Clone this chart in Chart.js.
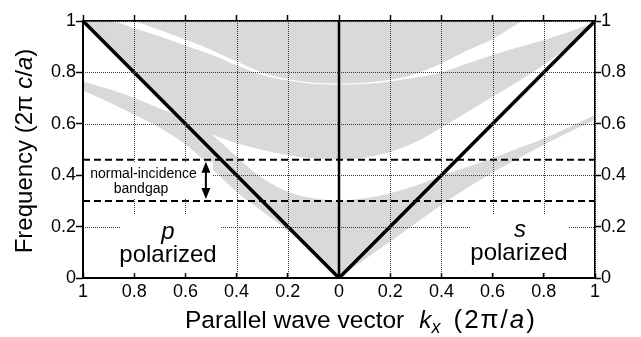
<!DOCTYPE html>
<html>
<head>
<meta charset="utf-8">
<script src="https://cdn.jsdelivr.net/npm/chart.js@4/dist/chart.umd.min.js"></script>
<style>
html,body{margin:0;padding:0;background:#fff;}
#wrap{width:641px;height:337px;position:relative;}
</style>
</head>
<body>
<div id="wrap"><canvas id="c" width="641" height="337"></canvas></div>
<script>
const FONT = '"Liberation Sans", Arial, Helvetica, sans-serif';
const GRAY = '#d9d9d9';

// |k_x| samples (units of 2π/a)
const kSamples = [0, 0.1, 0.2, 0.3, 0.4, 0.5, 0.6, 0.7, 0.8, 0.9, 1.0];

// p-polarized band edges (left half, frequency in 2πc/a)
const pBand1Lower = [0, 0.095, 0.185, 0.26, 0.335, 0.43, 0.52, 0.585, 0.635, 0.685, 0.73];
const pBand1Upper = [0.30, 0.31, 0.336, 0.389, 0.472, 0.56, 0.62, 0.66, 0.70, 0.735, 0.765];
const pBand2Lower = [0.46, 0.466, 0.479, 0.498, 0.524, 0.56, 0.60, 0.70, 0.80, 0.90, 1.0];
const pBand2Upper = [0.752, 0.755, 0.768, 0.79, 0.828, 0.87, 0.905, 0.94, 0.972, 1.0, 1.0];
const pBand3K     = [0, 0.1, 0.2, 0.3, 0.4, 0.5, 0.6, 0.7, 0.8];
const pBand3Lower = [0.756, 0.76, 0.774, 0.80, 0.842, 0.888, 0.928, 0.965, 1.0];
const pBand3Upper = [1, 1, 1, 1, 1, 1, 1, 1, 1];

// s-polarized band edges (right half)
const sBand1Lower = [0, 0.072, 0.142, 0.213, 0.284, 0.35, 0.41, 0.465, 0.518, 0.568, 0.615];
const sBand1Upper = [0.30, 0.31, 0.33, 0.36, 0.398, 0.432, 0.466, 0.505, 0.543, 0.588, 0.634];
const sBand2Lower = [0.46, 0.468, 0.49, 0.53, 0.585, 0.645, 0.705, 0.765, 0.83, 0.905, 0.985];
const sBand2Upper = [0.752, 0.755, 0.765, 0.78, 0.80, 0.835, 0.868, 0.898, 0.926, 0.958, 0.995];
const sBand3K     = [0, 0.1, 0.2, 0.3, 0.4, 0.5, 0.6, 0.7, 0.72];
const sBand3Lower = [0.756, 0.76, 0.771, 0.795, 0.835, 0.885, 0.93, 0.99, 1.0];
const sBand3Upper = [1, 1, 1, 1, 1, 1, 1, 1, 1];

// light lines and normal-incidence gap
const lightX = [-1, 0, 1];
const lightY = [1, 0, 1];
const gapEdges = [0.30, 0.46];
const arrowK = -0.52;

// ticks
const xTickValues = [-1, -0.8, -0.6, -0.4, -0.2, 0, 0.2, 0.4, 0.6, 0.8, 1];
const xTickLabels = ['1', '0.8', '0.6', '0.4', '0.2', '0', '0.2', '0.4', '0.6', '0.8', '1'];
const yTickValues = [0, 0.2, 0.4, 0.6, 0.8, 1];
const yTickLabels = ['0', '0.2', '0.4', '0.6', '0.8', '1'];

function pts(sign, ks, ys) {
  return ks.map((k, i) => ({x: sign * k, y: ys[i]})).sort((a, b) => a.x - b.x);
}

const datasets = [];
datasets.push({data: lightX.map((x, i) => ({x, y: lightY[i]})), borderColor: '#000', borderWidth: 3.5,
  pointRadius: 0, fill: false, order: 0});
datasets.push({data: [{x: 0, y: 0}, {x: 0, y: 1}], borderColor: '#000', borderWidth: 2.5,
  pointRadius: 0, fill: false, order: 1});
gapEdges.forEach(g => datasets.push({data: [{x: -1, y: g}, {x: 1, y: g}], borderColor: '#000',
  borderWidth: 2, borderDash: [7, 4], pointRadius: 0, fill: false, order: 2}));

const bands = [
  [-1, kSamples, pBand1Lower, pBand1Upper],
  [-1, kSamples, pBand2Lower, pBand2Upper],
  [-1, pBand3K, pBand3Lower, pBand3Upper],
  [1, kSamples, sBand1Lower, sBand1Upper],
  [1, kSamples, sBand2Lower, sBand2Upper],
  [1, sBand3K, sBand3Lower, sBand3Upper]
];
bands.forEach(([sign, ks, lo, up]) => {
  const li = datasets.length;
  datasets.push({data: pts(sign, ks, lo), borderWidth: 0, borderColor: 'rgba(0,0,0,0)', pointRadius: 0,
    fill: false, order: 10, cubicInterpolationMode: 'monotone'});
  datasets.push({data: pts(sign, ks, up), borderWidth: 0, borderColor: 'rgba(0,0,0,0)', pointRadius: 0,
    fill: li, backgroundColor: GRAY, order: 10, cubicInterpolationMode: 'monotone'});
});

// rich text: parts {t, i: italic, sub, sz: size, gap: px before, ls: letter spacing}
function drawRich(ctx, parts, x, y, size, align) {
  const szOf = p => p.sz || (p.sub ? Math.round(size * 0.72) : size);
  const fontOf = p => `${p.i ? 'italic ' : ''}${szOf(p)}px ${FONT}`;
  let w = 0;
  parts.forEach(p => {
    ctx.font = fontOf(p);
    const ls = p.ls || 0;
    p.w = ctx.measureText(p.t).width + ls * [...p.t].length + (p.gap || 0);
    w += p.w;
  });
  let cx = align === 'center' ? x - w / 2 : x;
  ctx.textAlign = 'left';
  ctx.textBaseline = 'alphabetic';
  parts.forEach(p => {
    ctx.font = fontOf(p);
    let px = cx + (p.gap || 0);
    const ls = p.ls || 0;
    const dy = p.sub ? size * 0.2 : 0;
    if (ls) {
      [...p.t].forEach(ch => { ctx.fillText(ch, px, y + dy); px += ctx.measureText(ch).width + ls; });
    } else {
      ctx.fillText(p.t, px, y + dy);
    }
    cx += p.w;
  });
  return w;
}

const xTitle = [{t: 'Parallel wave vector'}, {t: 'k', i: true, gap: 15}, {t: 'x', i: true, sub: true},
  {t: '(2π/', sz: 26, ls: 2, gap: 13}, {t: 'a', i: true, sz: 26, ls: 2}, {t: ')', sz: 26}];
const yTitle = [{t: 'Frequency (2π '}, {t: 'c', i: true}, {t: '/'}, {t: 'a', i: true}, {t: ')'}];

// dotted grid drawn above the shaded bands
const gridPlugin = {
  id: 'gridOver',
  afterDatasetsDraw(chart) {
    const ctx = chart.ctx;
    const xs = chart.scales.x, ys = chart.scales.y, a = chart.chartArea;
    ctx.save();
    ctx.strokeStyle = '#3a3a3a';
    ctx.lineWidth = 1;
    ctx.setLineDash([1, 1]);
    xs.ticks.forEach(t => {
      if (t.value === 0) return;
      const px = Math.round(xs.getPixelForValue(t.value)) + 0.5;
      ctx.beginPath(); ctx.moveTo(px, a.top); ctx.lineTo(px, a.bottom); ctx.stroke();
    });
    ys.ticks.forEach(t => {
      const py = Math.round(ys.getPixelForValue(t.value)) + 0.5;
      ctx.beginPath(); ctx.moveTo(a.left, py); ctx.lineTo(a.right, py); ctx.stroke();
    });
    ctx.restore();
  }
};

const annot = {
  id: 'annot',
  afterDraw(chart) {
    const ctx = chart.ctx;
    const xs = chart.scales.x, ys = chart.scales.y;
    ctx.save();
    // white backgrounds behind labels
    ctx.fillStyle = '#fff';
    const g0 = ys.getPixelForValue(gapEdges[0]), g1 = ys.getPixelForValue(gapEdges[1]);
    ctx.fillRect(xs.left + 1, g1 + 2, 129, g0 - g1 - 4);
    ctx.fillRect(120, 214, 100, 58);
    ctx.fillRect(470, 214, 99, 58);
    ctx.fillStyle = '#000';
    // labels
    drawRich(ctx, [{t: 'normal-incidence'}], 143.5, 178, 14, 'center');
    drawRich(ctx, [{t: 'bandgap'}], 141, 193, 14, 'center');
    drawRich(ctx, [{t: 'p', i: true}], 168, 239, 24, 'center');
    drawRich(ctx, [{t: 'polarized'}], 168, 262, 24, 'center');
    drawRich(ctx, [{t: 's', i: true}], 520, 237, 24, 'center');
    drawRich(ctx, [{t: 'polarized'}], 519, 260, 24, 'center');
    // double arrow
    const ax = xs.getPixelForValue(arrowK);
    const top = g1 + 2, bot = g0 - 2;
    ctx.strokeStyle = '#000';
    ctx.lineWidth = 2;
    ctx.beginPath(); ctx.moveTo(ax, top + 8); ctx.lineTo(ax, bot - 8); ctx.stroke();
    ctx.beginPath(); ctx.moveTo(ax, top); ctx.lineTo(ax - 4.5, top + 11); ctx.lineTo(ax + 4.5, top + 11); ctx.closePath(); ctx.fill();
    ctx.beginPath(); ctx.moveTo(ax, bot); ctx.lineTo(ax - 4.5, bot - 11); ctx.lineTo(ax + 4.5, bot - 11); ctx.closePath(); ctx.fill();
    // axis titles
    drawRich(ctx, xTitle, 185, 328, 24.5, 'left');
    ctx.save();
    ctx.translate(32, 151);
    ctx.rotate(-Math.PI / 2);
    drawRich(ctx, yTitle, 0, 0, 24, 'center');
    ctx.restore();
    ctx.restore();
  }
};

const tickFont = {family: FONT, size: 18};
new Chart(document.getElementById('c'), {
  type: 'line',
  data: {datasets},
  options: {
    responsive: false,
    devicePixelRatio: 1,
    animation: false,
    events: [],
    layout: {padding: {left: 43, right: 6, top: 0, bottom: 0}},
    plugins: {legend: {display: false}, tooltip: {enabled: false}},
    scales: {
      x: {
        type: 'linear', position: 'bottom', min: -1, max: 1,
        afterBuildTicks: s => { s.ticks = xTickValues.map(v => ({value: v})); },
        afterFit: s => { s.height = 59; },
        ticks: {callback: (v, i) => xTickLabels[i], font: tickFont, color: '#000', padding: 8,
          autoSkip: false, maxRotation: 0},
        grid: {drawOnChartArea: false, tickLength: -5, tickColor: '#000', tickWidth: 1.5},
        border: {display: true, color: '#000', width: 2, z: 2}
      },
      x2: {
        type: 'linear', position: 'top', min: -1, max: 1,
        afterBuildTicks: s => { s.ticks = xTickValues.map(v => ({value: v})); },
        afterFit: s => { s.height = 21; },
        ticks: {display: false},
        grid: {drawOnChartArea: false, tickLength: 6, tickColor: '#000', tickWidth: 1.5},
        border: {display: true, color: '#000', width: 1.5, z: 2}
      },
      y: {
        type: 'linear', position: 'left', min: 0, max: 1,
        afterBuildTicks: s => { s.ticks = yTickValues.map(v => ({value: v})); },
        afterFit: s => { s.width = 40; },
        ticks: {callback: (v, i) => yTickLabels[i], font: tickFont, color: '#000', padding: 0, autoSkip: false},
        grid: {drawOnChartArea: false, tickLength: 7, tickColor: '#000', tickWidth: 1.5},
        border: {display: true, color: '#000', width: 2, z: 2}
      },
      y2: {
        type: 'linear', position: 'right', min: 0, max: 1,
        afterBuildTicks: s => { s.ticks = yTickValues.map(v => ({value: v})); },
        afterFit: s => { s.width = 40; },
        ticks: {callback: (v, i) => yTickLabels[i], font: tickFont, color: '#000', padding: 0, autoSkip: false},
        grid: {drawOnChartArea: false, tickLength: 6, tickColor: '#000', tickWidth: 1.5},
        border: {display: true, color: '#000', width: 1.5, z: 2}
      }
    }
  },
  plugins: [gridPlugin, annot]
});
</script>
</body>
</html>
